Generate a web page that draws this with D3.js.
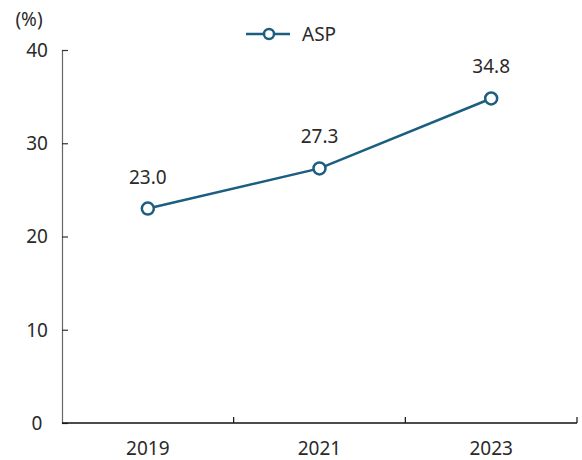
<!DOCTYPE html>
<html>
<head>
<meta charset="utf-8">
<script src="https://cdn.jsdelivr.net/npm/d3@7"></script>
<style>
  body { margin: 0; background: #fff; }
  svg { display: block; font-family: "Noto Sans", "Open Sans", sans-serif; }
</style>
</head>
<body>
<div id="chart"></div>
<script>
// ASP share by year, line chart with value labels.
const years = ['2019', '2021', '2023'];
const aspValues = [23.0, 27.3, 34.8];
const yTicks = [0, 10, 20, 30, 40];
const seriesName = 'ASP';
const unitLabel = '(%)';

const W = 582, H = 460;
const margin = { top: 50, right: 5, bottom: 37, left: 62 };
const lineColor = '#1b5e80';
const textColor = '#2a2a2a';
const fs = 19;

const svg = d3.select('#chart').append('svg')
  .attr('width', W).attr('height', H);

const x = d3.scaleBand().domain(years).range([margin.left, W - margin.right]);
const y = d3.scaleLinear().domain([0, 40]).range([H - margin.bottom, margin.top]);

// y axis, ticks pointing inward
const yAxis = svg.append('g')
  .attr('transform', `translate(${margin.left},0)`)
  .call(d3.axisRight(y).tickValues(yTicks).tickSize(6).tickFormat(''));
yAxis.select('.domain').attr('stroke', '#666').attr('stroke-width', 1.2);
yAxis.selectAll('.tick line').attr('stroke', '#333').attr('stroke-width', 1.2);
svg.append('g').selectAll('text').data(yTicks).join('text')
  .attr('x', margin.left - 25).attr('y', d => y(d))
  .attr('dy', '0.36em').attr('text-anchor', 'middle')
  .attr('font-size', fs).attr('fill', textColor)
  .text(d => d);

svg.append('text')
  .attr('x', 29).attr('y', 26).attr('text-anchor', 'middle')
  .attr('font-size', fs).attr('fill', textColor)
  .text(unitLabel);

// x axis: ticks at band boundaries, pointing up
const xAxisY = y(0);
const xg = svg.append('g');
xg.append('line')
  .attr('x1', margin.left).attr('x2', W - margin.right)
  .attr('y1', xAxisY).attr('y2', xAxisY)
  .attr('stroke', '#111').attr('stroke-width', 1.3);
xg.selectAll('.tk').data(years).join('line')
  .attr('class', 'tk')
  .attr('x1', d => x(d) + x.bandwidth()).attr('x2', d => x(d) + x.bandwidth())
  .attr('y1', xAxisY).attr('y2', xAxisY - 6)
  .attr('stroke', '#111').attr('stroke-width', 1.2);
xg.selectAll('text').data(years).join('text')
  .attr('x', d => x(d) + x.bandwidth() / 2).attr('y', xAxisY + 32)
  .attr('text-anchor', 'middle').attr('font-size', fs).attr('fill', textColor)
  .text(d => d);

// series
const pts = years.map((yr, i) => ({ yr, v: aspValues[i] }));
const cx = d => x(d.yr) + x.bandwidth() / 2;

svg.append('path').datum(pts)
  .attr('fill', 'none').attr('stroke', lineColor).attr('stroke-width', 2.5)
  .attr('d', d3.line().x(cx).y(d => y(d.v)));

svg.selectAll('.pt').data(pts).join('circle')
  .attr('class', 'pt')
  .attr('cx', cx).attr('cy', d => y(d.v)).attr('r', 6)
  .attr('fill', '#fff').attr('stroke', lineColor).attr('stroke-width', 2.5);

svg.selectAll('.lbl').data(pts).join('text')
  .attr('class', 'lbl')
  .attr('x', cx).attr('y', d => y(d.v) - 25)
  .attr('text-anchor', 'middle').attr('font-size', fs).attr('fill', textColor)
  .text(d => d.v.toFixed(1));

// legend
const lg = svg.append('g').attr('transform', 'translate(246,34)');
lg.append('line').attr('x1', 0).attr('x2', 44)
  .attr('stroke', lineColor).attr('stroke-width', 2.5);
lg.append('circle').attr('cx', 23).attr('r', 5)
  .attr('fill', '#fff').attr('stroke', lineColor).attr('stroke-width', 2.5);
lg.append('text').attr('x', 56).attr('dy', '0.36em')
  .attr('font-size', fs).attr('fill', textColor)
  .text(seriesName);
</script>
</body>
</html>
